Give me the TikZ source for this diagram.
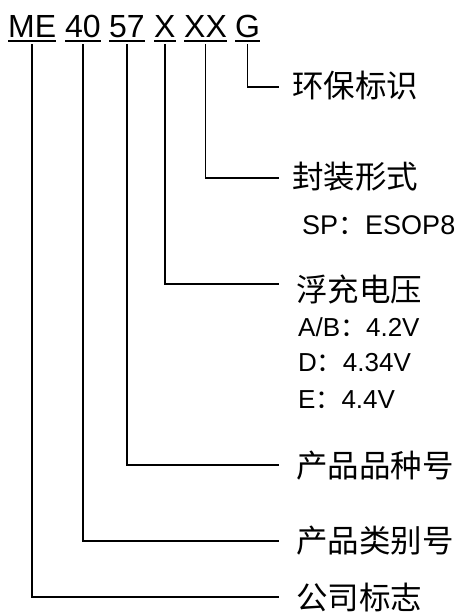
\documentclass[tikz,border=0pt]{standalone}
\usepackage{fontspec}
\setmainfont{Liberation Sans}
\newfontfamily\cjk{Noto Sans CJK SC}
\begin{document}
\begin{tikzpicture}[x=1pt,y=1pt,
  tok/.style={inner sep=0pt,anchor=base west,text depth=0pt,font=\fontsize{32}{36}\selectfont},
  lab/.style={inner sep=0pt,anchor=west,font=\cjk\fontsize{31.5}{34}\selectfont},
  sub/.style={inner sep=0pt,anchor=base west,font=\fontsize{26}{30}\selectfont},
  uline/.style={line width=1.6pt},
  conn/.style={line width=1.5pt}]
\useasboundingbox (0,0) rectangle (456,-614);
% tokens
\node[tok] (tME) at (8,-37) {ME};
\node[tok] (t40) at (65,-37) {40};
\node[tok] (t57) at (109,-37) {57};
\node[tok] (tX)  at (154,-37) {X};
\node[tok] (tXX) at (184,-37) {XX};
\node[tok] (tG)  at (235,-37) {G};
\foreach \t in {tME,t40,t57,tX,tXX,tG}{
  \draw[uline] ([yshift=-4pt]\t.base west) -- ([yshift=-4pt]\t.base east);
}
% labels
\node[lab] (lG)  at (292,-86) {环保标识};
\node[lab] (lXX) at (292,-177) {封装形式};
\node[lab] (lX)  at (296,-289) {浮充电压};
\node[lab] (l57) at (296,-466) {产品品种号};
\node[lab] (l40) at (296,-541) {产品类别号};
\node[lab] (lME) at (296,-598) {公司标志};
% sub labels
\node[sub,font=\fontsize{27}{30}\selectfont] (sSP) at (302,-234) {SP{\cjk ：}ESOP8};
\node[sub] (sAB) at (298,-336) {A/B{\cjk ：}4.2V};
\node[sub] (sD)  at (298,-371) {D{\cjk ：}4.34V};
\node[sub] (sE)  at (298,-408) {E{\cjk ：}4.4V};
% connectors
\draw[conn] ([yshift=-7pt]tG.south)  |- ([xshift=-13pt,yshift=-1pt]lG.west);
\draw[conn] ([yshift=-7pt]tXX.south) |- ([xshift=-13pt,yshift=-1pt]lXX.west);
\draw[conn] ([yshift=-7pt]tX.south)  |- ([xshift=-17pt,yshift=5pt]lX.west);
\draw[conn] ([yshift=-7pt]t57.south) |- ([xshift=-17pt,yshift=1pt]l57.west);
\draw[conn] ([yshift=-7pt]t40.south) |- ([xshift=-17pt]l40.west);
\draw[conn] ([yshift=-7pt]tME.south) |- ([xshift=-17pt,yshift=1pt]lME.west);
\end{tikzpicture}
\end{document}
